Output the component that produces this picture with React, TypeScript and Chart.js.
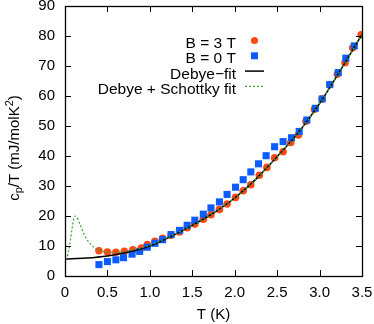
import React, { useEffect, useRef } from "react";
import { Chart, registerables } from "chart.js";

Chart.register(...registerables);

// B = 3 T measurement
const T_B3 = [0.40, 0.50, 0.60, 0.70, 0.80, 0.90, 0.97, 1.06, 1.15, 1.25, 1.35, 1.44, 1.53, 1.63, 1.72, 1.82, 1.91, 2.01, 2.10, 2.19, 2.29, 2.38, 2.47, 2.57, 2.66, 2.75, 2.84, 2.94, 3.03, 3.12, 3.21, 3.30, 3.39, 3.49];
const CP_B3 = [8.4, 8.0, 7.9, 8.2, 8.7, 9.3, 10.5, 11.6, 12.6, 13.6, 14.7, 16.1, 17.3, 18.9, 20.4, 22.2, 24.0, 26.2, 28.4, 30.4, 33.6, 36.2, 39.4, 41.4, 44.5, 47.0, 51.6, 55.6, 59.0, 63.8, 67.3, 71.1, 76.1, 80.4];

// B = 0 T measurement
const T_B0 = [0.40, 0.50, 0.60, 0.69, 0.79, 0.88, 0.97, 1.06, 1.15, 1.25, 1.35, 1.44, 1.53, 1.63, 1.72, 1.82, 1.91, 2.01, 2.10, 2.19, 2.28, 2.37, 2.47, 2.57, 2.67, 2.76, 2.85, 2.95, 3.03, 3.12, 3.22, 3.31, 3.41];
const CP_B0 = [3.8, 4.8, 5.4, 6.1, 7.3, 8.2, 9.6, 10.9, 12.1, 13.8, 15.2, 16.9, 18.6, 20.6, 22.7, 24.7, 27.2, 29.6, 32.1, 34.7, 37.4, 40.1, 43.1, 44.8, 46.1, 48.2, 52.0, 55.9, 59.0, 63.8, 67.8, 72.6, 76.7];

// Debye fit
const T_DEBYE = [0, 0.25, 0.5, 0.75, 1.0, 1.25, 1.5, 1.75, 2.0, 2.25, 2.5, 2.75, 3.0, 3.25, 3.5];
const CP_DEBYE = [5.7, 6.0, 6.7, 8.0, 10.0, 13.2, 16.9, 21.0, 26.0, 32.3, 39.8, 47.8, 57.5, 68.8, 80.5];

// Debye + Schottky fit
const T_DS = [0, 0.02, 0.04, 0.06, 0.08, 0.10, 0.12, 0.14, 0.16, 0.18, 0.20, 0.24, 0.28, 0.32, 0.36, 0.40, 0.50, 0.60, 0.70, 0.80, 0.90, 1.0, 1.25, 1.5, 1.75, 2.0, 2.25, 2.5, 2.75, 3.0, 3.25, 3.5];
const CP_DS = [5.7, 6.0, 8.0, 11.2, 15.2, 18.6, 20.0, 19.6, 18.4, 17.0, 15.6, 13.1, 11.3, 10.1, 9.2, 8.6, 8.0, 7.9, 8.2, 8.7, 9.3, 10.2, 13.3, 16.9, 21.0, 26.0, 32.3, 39.8, 47.8, 57.5, 68.8, 80.5];

const LABELS = ["B = 3 T", "B = 0 T", "Debye\u2212fit", "Debye + Schottky fit"];
const X_TITLE = "T (K)";

const RED = "#ff4a14";
const BLUE = "#0a5cff";
const GREEN = "#3ca03c";
const FONT = "Liberation Sans, Arial, Helvetica, sans-serif";

const pts = (xs: number[], ys: number[]) => xs.map((x, i) => ({ x, y: ys[i] }));

const framePlugin = {
  id: "gnuFrame",
  afterDraw(chart: any) {
    const { ctx, chartArea: a, scales } = chart;
    const xs = scales.x;
    const ys = scales.y;
    ctx.save();
    ctx.strokeStyle = "#000";
    ctx.lineWidth = 1;
    // inward ticks
    const tl = 6;
    ctx.beginPath();
    xs.ticks.forEach((t: any) => {
      const px = Math.round(xs.getPixelForValue(t.value)) + 0.5;
      ctx.moveTo(px, a.bottom);
      ctx.lineTo(px, a.bottom - tl);
      ctx.moveTo(px, a.top);
      ctx.lineTo(px, a.top + tl);
    });
    ys.ticks.forEach((t: any) => {
      const py = Math.round(ys.getPixelForValue(t.value)) + 0.5;
      ctx.moveTo(a.left, py);
      ctx.lineTo(a.left + tl, py);
      ctx.moveTo(a.right, py);
      ctx.lineTo(a.right - tl, py);
    });
    ctx.stroke();
    ctx.lineWidth = 1.3;
    ctx.strokeRect(Math.round(a.left) + 0.5, Math.round(a.top) + 0.5, Math.round(a.right - a.left), Math.round(a.bottom - a.top));

    // legend (gnuplot style: right-aligned text, sample on the right)
    const textRight = 236;
    const sampleL = 245;
    const sampleR = 264;
    const base0 = 48;
    const step = 15.3;
    ctx.font = `15.5px ${FONT}`;
    ctx.fillStyle = "#000";
    ctx.textAlign = "right";
    ctx.textBaseline = "alphabetic";
    chart.data.datasets.forEach((ds: any, i: number) => {
      const by = base0 + step * i;
      const my = by - 7.5;
      ctx.fillStyle = "#000";
      ctx.fillText(ds.label, textRight, by);
      const cx = (sampleL + sampleR) / 2;
      if (ds.showLine) {
        ctx.save();
        ctx.strokeStyle = ds.borderColor;
        ctx.lineWidth = ds.borderWidth;
        ctx.setLineDash(ds.borderDash || []);
        ctx.beginPath();
        ctx.moveTo(sampleL, my);
        ctx.lineTo(sampleR, my);
        ctx.stroke();
        ctx.restore();
      } else {
        ctx.fillStyle = ds.backgroundColor;
        if (ds.pointStyle === "rect") {
          const s = 7;
          ctx.fillRect(cx - s / 2, my - s / 2, s, s);
        } else {
          ctx.beginPath();
          ctx.arc(cx, my, 3.6, 0, Math.PI * 2);
          ctx.fill();
        }
      }
    });

    // y-axis title with sub/superscript
    const big = `15px ${FONT}`;
    const small = `11px ${FONT}`;
    const parts = [
      { t: "c", f: big, dy: 0 },
      { t: "p", f: small, dy: 3.5 },
      { t: "/T (mJ/molK", f: big, dy: 0 },
      { t: "2", f: small, dy: -6 },
      { t: ")", f: big, dy: 0 },
    ];
    let w = 0;
    parts.forEach((p) => {
      ctx.font = p.f;
      w += ctx.measureText(p.t).width;
    });
    ctx.translate(18.5, 148);
    ctx.rotate(-Math.PI / 2);
    ctx.textAlign = "left";
    ctx.textBaseline = "alphabetic";
    ctx.fillStyle = "#000";
    let x = -w / 2;
    parts.forEach((p) => {
      ctx.font = p.f;
      ctx.fillText(p.t, x, p.dy);
      x += ctx.measureText(p.t).width;
    });
    ctx.restore();
  },
};

export default function App() {
  const ref = useRef<HTMLCanvasElement | null>(null);

  useEffect(() => {
    if (!ref.current) return;
    const chart = new Chart(ref.current, {
      type: "scatter",
      data: {
        datasets: [
          {
            label: LABELS[0],
            data: pts(T_B3, CP_B3),
            backgroundColor: RED,
            borderColor: RED,
            pointStyle: "circle",
            pointRadius: 3.8,
            pointBorderWidth: 0,
            showLine: false,
            order: 4,
          },
          {
            label: LABELS[1],
            data: pts(T_B0, CP_B0),
            backgroundColor: BLUE,
            borderColor: BLUE,
            pointStyle: "rect",
            pointRadius: 5,
            pointBorderWidth: 0,
            showLine: false,
            order: 3,
          },
          {
            label: LABELS[2],
            data: pts(T_DEBYE, CP_DEBYE),
            borderColor: "#000",
            backgroundColor: "#000",
            borderWidth: 1.5,
            pointRadius: 0,
            showLine: true,
            cubicInterpolationMode: "monotone",
            order: 2,
          },
          {
            label: LABELS[3],
            data: pts(T_DS, CP_DS),
            borderColor: GREEN,
            backgroundColor: GREEN,
            borderWidth: 1.2,
            borderDash: [2, 2],
            pointRadius: 0,
            showLine: true,
            cubicInterpolationMode: "monotone",
            order: 1,
          },
        ] as any,
      },
      options: {
        responsive: false,
        animation: false,
        layout: { padding: { left: 0, top: 6, right: 12, bottom: 0 } },
        plugins: { legend: { display: false }, tooltip: { enabled: false } },
        scales: {
          x: {
            type: "linear",
            min: 0,
            max: 3.5,
            ticks: { stepSize: 0.5, color: "#000", font: { family: FONT, size: 15 }, padding: 8, maxRotation: 0 },
            grid: { display: false, drawTicks: false },
            border: { display: false },
            title: { display: true, text: X_TITLE, color: "#000", font: { family: FONT, size: 15 }, padding: { top: 0, bottom: 0 } },
            afterFit: (s: any) => {
              s.height = 48;
              s.paddingLeft = 0;
              s.paddingRight = 0;
            },
          },
          y: {
            type: "linear",
            min: 0,
            max: 90,
            ticks: { stepSize: 10, color: "#000", font: { family: FONT, size: 15 }, padding: 10 },
            grid: { display: false, drawTicks: false },
            border: { display: false },
            afterFit: (s: any) => {
              s.width = 65;
              s.paddingTop = 0;
              s.paddingBottom = 0;
            },
          },
        },
      },
      plugins: [framePlugin],
    });
    return () => chart.destroy();
  }, []);

  return (
    <div style={{ position: "absolute", left: 0, top: 0, width: 374, height: 324, background: "#fff" }}>
      <canvas ref={ref} width={374} height={324} style={{ display: "block" }} />
    </div>
  );
}
